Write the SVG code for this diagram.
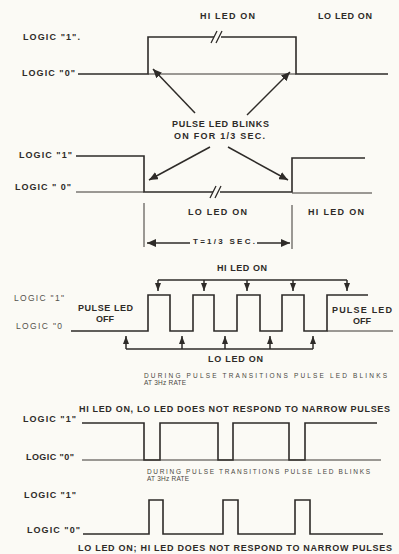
<svg xmlns="http://www.w3.org/2000/svg" width="399" height="554" viewBox="0 0 399 554">
<defs>
<style>
.t{font-family:"Liberation Sans",Arial,sans-serif;font-weight:bold;font-size:9px;fill:#2e2b28}
.g{font-family:"Liberation Sans",Arial,sans-serif;font-size:8.5px;fill:#55524d}
.s{font-family:"Liberation Sans",Arial,sans-serif;font-size:6.5px;fill:#4a4742}
.w{fill:none;stroke:#2e2b28;stroke-width:1.6}
.thin{fill:none;stroke:#3a3733;stroke-width:1}
.brk{fill:none;stroke:#2e2b28;stroke-width:1.3}
.ar{fill:none;stroke:#2e2b28;stroke-width:1.5}
</style>
<marker id="ah" markerUnits="userSpaceOnUse" markerWidth="10" markerHeight="8" refX="9" refY="4" orient="auto">
<path d="M0,0 L9,4 L0,8 z" fill="#2e2b28"/>
</marker>
<marker id="sh" markerUnits="userSpaceOnUse" markerWidth="8" markerHeight="6" refX="8" refY="3" orient="auto">
<path d="M0,0 L8,3 L0,6 z" fill="#2e2b28"/>
</marker>
</defs>
<rect width="399" height="554" fill="#fbfaf5"/>

<g id="section1">
<text class="t" x="200" y="19" textLength="55" lengthAdjust="spacing">HI LED ON</text>
<text class="t" x="318" y="19" textLength="54" lengthAdjust="spacing">LO LED ON</text>
<text class="t" x="23" y="40" textLength="57" lengthAdjust="spacing">LOGIC "1".</text>
<text class="t" x="22" y="76" textLength="53" lengthAdjust="spacing">LOGIC "0"</text>
<text class="t" x="172" y="127" textLength="97" lengthAdjust="spacing">PULSE LED BLINKS</text>
<text class="t" x="174" y="139" textLength="91" lengthAdjust="spacing">ON FOR 1/3 SEC.</text>
</g>

<g id="section2">
<text class="t" x="19" y="158" textLength="53" lengthAdjust="spacing">LOGIC "1"</text>
<text class="t" x="15" y="190" textLength="56" lengthAdjust="spacing">LOGIC " 0"</text>
<text class="t" x="188" y="215" textLength="59" lengthAdjust="spacing">LO LED ON</text>
<text class="t" x="308" y="215" textLength="56" lengthAdjust="spacing">HI LED ON</text>
<text class="t" x="193" y="244" textLength="62" lengthAdjust="spacing" style="font-size:8px">T=1/3 SEC.</text>
</g>

<g id="section3">
<text class="t" x="217" y="271" textLength="50" lengthAdjust="spacing">HI LED ON</text>
<text class="g" x="14" y="301" textLength="50" lengthAdjust="spacing">LOGIC "1"</text>
<text class="g" x="16" y="329" textLength="46" lengthAdjust="spacing">LOGIC "0</text>
<text class="t" x="78" y="311" textLength="55" lengthAdjust="spacing">PULSE LED</text>
<text class="t" x="105" y="322" text-anchor="middle">OFF</text>
<text class="t" x="332" y="313" textLength="60" lengthAdjust="spacing">PULSE LED</text>
<text class="t" x="362" y="324" text-anchor="middle">OFF</text>
<text class="t" x="208" y="362" textLength="55" lengthAdjust="spacing">LO LED ON</text>
<text class="s" x="144" y="378" textLength="243" lengthAdjust="spacing">DURING PULSE TRANSITIONS PULSE LED BLINKS</text>
<text class="s" x="144" y="385" textLength="42" lengthAdjust="spacing">AT 3Hz RATE</text>
</g>

<g id="section4">
<text class="t" x="79" y="412" textLength="311" lengthAdjust="spacing">HI LED ON, LO LED DOES NOT RESPOND TO NARROW PULSES</text>
<text class="t" x="23" y="422" textLength="53" lengthAdjust="spacing">LOGIC "1"</text>
<text class="t" x="26" y="460" textLength="48" lengthAdjust="spacing">LOGIC "0"</text>
<text class="s" x="147" y="474" textLength="223" lengthAdjust="spacing">DURING PULSE TRANSITIONS PULSE LED BLINKS</text>
<text class="s" x="147" y="481" textLength="42" lengthAdjust="spacing">AT 3Hz RATE</text>
</g>

<g id="section5">
<text class="t" x="24" y="498" textLength="52" lengthAdjust="spacing">LOGIC "1"</text>
<text class="t" x="27" y="533" textLength="53" lengthAdjust="spacing">LOGIC "0"</text>
<text class="t" x="78" y="551" textLength="314" lengthAdjust="spacing">LO LED ON; HI LED DOES NOT RESPOND TO NARROW PULSES</text>
</g>

<g id="connectors">
<!-- section 1 waveform -->
<path class="w" d="M78,74 H148 V37 H214 M221,37 H296 V74 H388"/>
<path class="thin" d="M148,74 H296"/>
<path class="brk" d="M211,43 L217,31 M216,43 L222,31"/>
<path class="ar" d="M195,113 L153,69" marker-end="url(#ah)"/>
<path class="ar" d="M247,115 L290,72" marker-end="url(#ah)"/>
<!-- section 2 waveform -->
<path class="w" d="M76,156 H144 V192 H213 M220,192 H292 V158 H365"/>
<path class="thin" d="M76,192 H144 M292,193 H372"/>
<path class="brk" d="M210,198 L216,186 M215,198 L221,186"/>
<path class="ar" d="M210,147 L149,180" marker-end="url(#ah)"/>
<path class="ar" d="M228,147 L288,180" marker-end="url(#ah)"/>
<path class="thin" d="M144,203 V247 M292,205 V249"/>
<path class="ar" d="M190,243 H147" marker-end="url(#ah)"/>
<path class="ar" d="M257,243 H290" marker-end="url(#ah)"/>
<!-- section 3 waveform -->
<path class="w" d="M71,331 H148 V295 H170 V331 H193 V295 H214 V331 H237 V295 H260 V331 H282 V295 H304 V331 H327 V295 H368"/>
<path class="thin" d="M327,331 H393"/>
<path class="ar" d="M158,280 H347"/>
<path class="ar" d="M158,280 V291" marker-end="url(#sh)"/>
<path class="ar" d="M204,280 V291" marker-end="url(#sh)"/>
<path class="ar" d="M247,280 V291" marker-end="url(#sh)"/>
<path class="ar" d="M293,280 V291" marker-end="url(#sh)"/>
<path class="ar" d="M347,280 V291" marker-end="url(#sh)"/>
<path class="ar" d="M126,349 H313"/>
<path class="ar" d="M126,349 V336" marker-end="url(#sh)"/>
<path class="ar" d="M182,349 V336" marker-end="url(#sh)"/>
<path class="ar" d="M225,349 V336" marker-end="url(#sh)"/>
<path class="ar" d="M270,349 V336" marker-end="url(#sh)"/>
<path class="ar" d="M313,349 V336" marker-end="url(#sh)"/>
<!-- section 4 waveform -->
<path class="w" d="M82,423 H144 V460 H160 V423 H218 V460 H233 V423 H289 V460 H305 V423 H377"/>
<path class="thin" d="M82,460 H381"/>
<!-- section 5 waveform -->
<path class="w" d="M83,534 H149 V500 H163 V534 H223 V500 H238 V534 H295 V500 H310 V534 H383"/>
</g>
</svg>
